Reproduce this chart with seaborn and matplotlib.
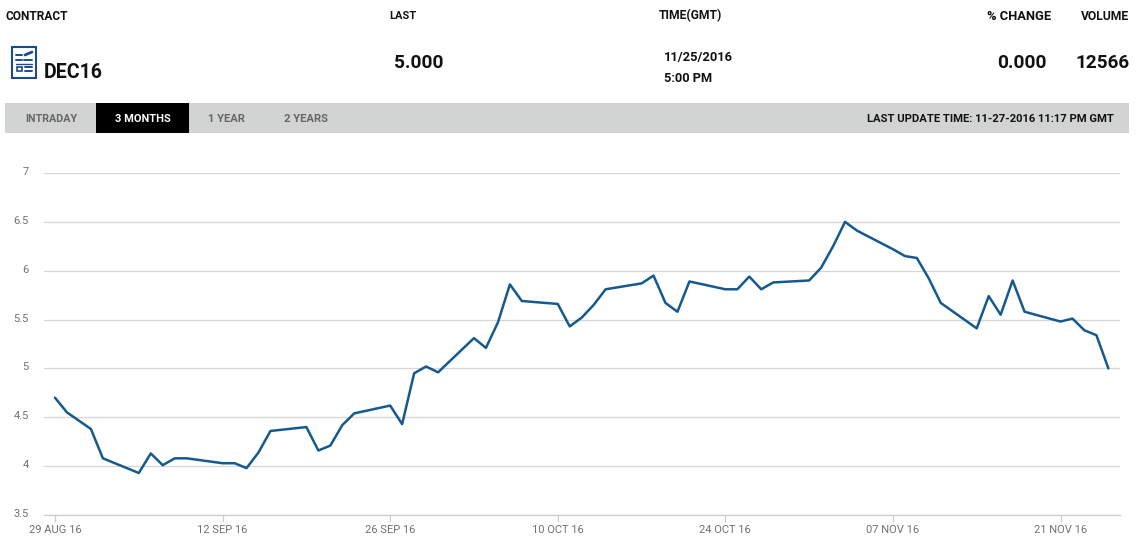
import matplotlib
matplotlib.use("Agg")
import matplotlib.pyplot as plt
import matplotlib.dates as mdates
from matplotlib.patches import Rectangle
from matplotlib.lines import Line2D
from matplotlib.transforms import ScaledTranslation
import pandas as pd
import seaborn as sns

day_offsets = [0,1,3,4,7,8,9,10,11,14,15,16,17,18,21,22,23,24,25,28,29,30,31,32,
               35,36,37,38,39,42,43,44,45,46,49,50,51,52,53,56,57,58,59,60,
               63,64,65,66,67,70,71,72,73,74,77,78,79,80,81,84,85,86,87,88]
prices = [4.70,4.55,4.38,4.08,3.93,4.13,4.01,4.08,4.08,4.03,4.03,3.98,4.14,4.36,
          4.40,4.16,4.21,4.42,4.54,4.62,4.43,4.95,5.02,4.96,
          5.31,5.21,5.47,5.86,5.69,5.66,5.43,5.52,5.65,5.81,
          5.87,5.95,5.67,5.58,5.89,5.81,5.81,5.94,5.81,5.88,
          5.90,6.03,6.25,6.50,6.41,6.22,6.15,6.13,5.92,5.67,
          5.41,5.74,5.55,5.90,5.58,5.48,5.51,5.39,5.34,5.00]
y_ticks = [3.5,4,4.5,5,5.5,6,6.5,7]
y_labels = ["3.5","4","4.5","5","5.5","6","6.5","7"]
x_tick_dates = ["2016-08-29","2016-09-12","2016-09-26","2016-10-10","2016-10-24","2016-11-07","2016-11-21"]
x_tick_labels = ["29 AUG 16","12 SEP 16","26 SEP 16","10 OCT 16","24 OCT 16","07 NOV 16","21 NOV 16"]
tabs = ["INTRADAY","3 MONTHS","1 YEAR","2 YEARS"]

W, H = 1137, 543
sns.set_theme(style="white")
plt.rcParams['font.family'] = ['Roboto', 'DejaVu Sans']

fig = plt.figure(figsize=(W/100, H/100), dpi=100, facecolor="white")
ax_l, ax_r, ax_t, ax_b = 44, 1120, 173, 515
ax = fig.add_axes([ax_l/W, 1-ax_b/H, (ax_r-ax_l)/W, (ax_b-ax_t)/H])

start = pd.Timestamp("2016-08-29")
df = pd.DataFrame({"date": [start + pd.Timedelta(days=d) for d in day_offsets], "price": prices})
sns.lineplot(data=df, x="date", y="price", ax=ax, color="#155a8f", linewidth=1.8, errorbar=None)

ax.set_xlim(start - pd.Timedelta(days=0.92), start + pd.Timedelta(days=88.97))
ax.set_ylim(3.5, 7)
ax.set_xlabel(""); ax.set_ylabel("")
ax.set_yticks(y_ticks); ax.set_yticklabels(y_labels)
ax.set_xticks([mdates.date2num(pd.Timestamp(d)) for d in x_tick_dates])
ax.set_xticklabels(x_tick_labels)
ax.yaxis.grid(True, color="#d6d6d6", linewidth=0.9)
ax.xaxis.grid(False)
ax.set_axisbelow(True)
for s in ["top", "left", "right"]:
    ax.spines[s].set_visible(False)
ax.spines["bottom"].set_color("#c8ccd4")
ax.spines["bottom"].set_linewidth(0.9)
ax.tick_params(axis="y", length=0, pad=11, labelsize=8, labelcolor="#707070")
ax.tick_params(axis="x", length=5, width=0.9, color="#c8ccd4", pad=2, labelsize=8, labelcolor="#707070", bottom=True)
up = ScaledTranslation(0, 2/100, fig.dpi_scale_trans)
for lab in ax.get_yticklabels():
    lab.set_transform(lab.get_transform() + up)

renderer = fig.canvas.get_renderer()

def T(x0, x1, y, s, color="#111111", weight="bold"):
    """Place text spanning pixel columns x0..x1, centred on pixel row y."""
    t = fig.text(x0/W, 1-(y+1)/H, s, fontsize=10, color=color, fontweight=weight, ha="left", va="center")
    w = t.get_window_extent(renderer).width
    t.set_fontsize(10*(x1-x0)/w)
    return t

def R(x, y, w, h, color, fill=True, lw=0):
    fig.add_artist(Rectangle((x/W, 1-(y+h)/H), w/W, h/H, transform=fig.transFigure,
                             facecolor=color if fill else "none",
                             edgecolor=color if not fill else "none", linewidth=lw))

def L(x0, y0, x1, y1, color="#1f4a8a", lw=1.4):
    fig.add_artist(Line2D([x0/W, x1/W], [1-y0/H, 1-y1/H], transform=fig.transFigure, color=color, linewidth=lw))

# header
T(6, 68, 15, "CONTRACT")
T(389, 416, 15, "LAST")
T(659, 722, 15, "TIME(GMT)")
T(987, 1051, 15, "% CHANGE")
T(1081, 1129, 15, "VOLUME")
T(44, 103, 71, "DEC16")
T(394, 443, 62, "5.000")
T(664, 733, 56, "11/25/2016")
T(664, 712, 78, "5:00 PM")
T(997, 1046, 62, "0.000")
T(1075, 1129, 62, "12566")

# icon
R(12, 47, 24, 31, "#1f4a8a", fill=False, lw=1.5)
L(16, 55, 22, 55); L(16, 60, 22, 60); L(24, 60, 32, 60)
L(25, 55, 32, 52, lw=2)
L(16, 64, 32, 64, lw=1)
R(17, 67, 5, 4, "#1f4a8a", fill=False, lw=1.2)
L(25, 67, 32, 67); L(25, 71, 32, 71)

# tab bar
R(5, 103, 1124, 30, "#d2d3d3")
R(96, 103, 93, 30, "#000000")
T(25, 77, 118, tabs[0], color="#666666")
T(115, 170, 118, tabs[1], color="#ffffff")
T(208, 245, 118, tabs[2], color="#666666")
T(284, 328, 118, tabs[3], color="#666666")
T(867, 1114, 118, "LAST UPDATE TIME: 11-27-2016 11:17 PM GMT")

fig.savefig("out.png", dpi=100)
